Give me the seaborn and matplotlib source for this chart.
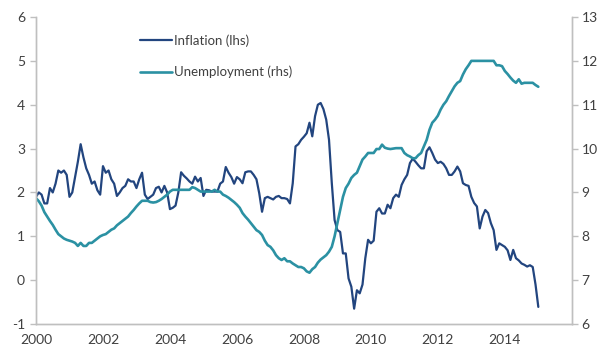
import numpy as np
import matplotlib
matplotlib.use("Agg")
import matplotlib.pyplot as plt
import seaborn as sns

# monthly, Jan 2000 .. Jan 2015
inflation = [
    1.9, 2.0, 1.95, 1.75, 1.75, 2.1, 2.0, 2.2, 2.5, 2.45, 2.5, 2.4,
    1.9, 2.0, 2.35, 2.7, 3.1, 2.8, 2.55, 2.4, 2.2, 2.25, 2.05, 1.95,
    2.6, 2.45, 2.5, 2.3, 2.2, 1.92, 2.0, 2.1, 2.15, 2.3, 2.25, 2.25,
    2.1, 2.3, 2.45, 1.95, 1.85, 1.9, 1.95, 2.1, 2.13, 2.0, 2.15, 2.0,
    1.62, 1.65, 1.7, 2.0, 2.46, 2.38, 2.32, 2.25, 2.2, 2.36, 2.25, 2.33,
    1.92, 2.06, 2.05, 2.02, 2.02, 2.02, 2.2, 2.25, 2.58, 2.45, 2.35, 2.2,
    2.35, 2.3, 2.21, 2.46, 2.48, 2.48, 2.4, 2.3, 1.98, 1.56, 1.87, 1.9,
    1.87, 1.84, 1.9, 1.92, 1.87, 1.87, 1.85, 1.75, 2.21, 3.05, 3.1, 3.2,
    3.27, 3.35, 3.59, 3.28, 3.74, 4.0, 4.04, 3.9, 3.66, 3.2, 2.21, 1.37,
    1.14, 1.1, 0.61, 0.61, 0.04, -0.15, -0.65, -0.23, -0.3, -0.1, 0.5, 0.92,
    0.84, 0.9, 1.56, 1.64, 1.52, 1.52, 1.72, 1.64, 1.87, 1.95, 1.9, 2.17,
    2.3, 2.4, 2.67, 2.77, 2.7, 2.62, 2.55, 2.55, 2.94, 3.03, 2.9, 2.75,
    2.67, 2.7, 2.65, 2.55, 2.4, 2.4, 2.48, 2.59, 2.48, 2.21, 2.17, 2.15,
    1.9, 1.76, 1.68, 1.18, 1.45, 1.6, 1.53, 1.3, 1.14, 0.69, 0.84, 0.8,
    0.76, 0.68, 0.46, 0.69, 0.5, 0.45, 0.38, 0.35, 0.31, 0.34, 0.3, -0.1,
    -0.61,
]

unemployment = [
    8.87, 8.8, 8.7, 8.55, 8.45, 8.35, 8.26, 8.15, 8.05, 8.0, 7.95, 7.92,
    7.9, 7.88, 7.85, 7.78, 7.85, 7.78, 7.78, 7.85, 7.85, 7.9, 7.95, 8.0,
    8.03, 8.05, 8.1, 8.15, 8.18, 8.25, 8.3, 8.35, 8.4, 8.45, 8.53, 8.6,
    8.68, 8.75, 8.81, 8.81, 8.81, 8.78, 8.77, 8.78, 8.81, 8.85, 8.9, 8.95,
    9.02, 9.06, 9.06, 9.06, 9.06, 9.06, 9.06, 9.06, 9.12, 9.1, 9.06, 9.02,
    9.02, 9.02, 9.02, 9.02, 9.06, 9.02, 9.02, 8.95, 8.92, 8.88, 8.83, 8.78,
    8.72, 8.65, 8.53, 8.45, 8.38, 8.3, 8.22, 8.14, 8.1, 8.03, 7.9, 7.8,
    7.76, 7.68, 7.57, 7.5, 7.46, 7.5, 7.43, 7.43, 7.38, 7.34, 7.3, 7.3,
    7.27, 7.2, 7.17, 7.25, 7.3, 7.4, 7.47, 7.52, 7.57, 7.65, 7.76, 8.0,
    8.3, 8.6, 8.9, 9.1, 9.2, 9.33, 9.4, 9.45, 9.6, 9.75, 9.82, 9.9,
    9.9, 9.9, 9.99, 9.99, 10.09, 10.02, 10.0, 9.99, 10.0, 10.01, 10.01, 10.01,
    9.9, 9.85, 9.82, 9.78, 9.78, 9.85, 9.9, 10.05, 10.2, 10.43, 10.59, 10.66,
    10.75, 10.89, 11.0, 11.08, 11.2, 11.31, 11.42, 11.5, 11.54, 11.69, 11.81, 11.9,
    12.0, 12.0, 12.0, 12.0, 12.0, 12.0, 12.0, 12.0, 12.0, 11.9, 11.9, 11.88,
    11.77, 11.7, 11.62, 11.55, 11.5, 11.58, 11.48, 11.5, 11.5, 11.5, 11.5, 11.45,
    11.41,
]

years = 2000 + np.arange(len(inflation)) / 12
xticks = [2000, 2002, 2004, 2006, 2008, 2010, 2012, 2014]

sns.set_style("white")
plt.rcParams["font.family"] = ["Lato", "DejaVu Sans"]
plt.rcParams["axes.unicode_minus"] = False

infl_col = "#22457f"
unemp_col = "#2b91a3"
grey = "#bfbfbf"
txt = "#404040"

fig = plt.figure(figsize=(6, 3.49), dpi=100)
ax = fig.add_axes([0.06, 0.0716, 0.893, 0.8796])
ax2 = ax.twinx()

sns.lineplot(x=years, y=inflation, ax=ax, color=infl_col, linewidth=1.6,
             label="Inflation (lhs)", legend=False)
sns.lineplot(x=years, y=unemployment, ax=ax2, color=unemp_col, linewidth=1.9,
             label="Unemployment (rhs)", legend=False)

ax.set_xlim(2000, 2016)
ax.set_ylim(-1, 6)
ax2.set_ylim(6, 13)
ax.set_xticks(xticks)
ax.set_xticklabels([str(x) for x in xticks])
ax.set_yticks(range(-1, 7))
ax2.set_yticks(range(6, 14))

for a in (ax, ax2):
    for s in a.spines.values():
        s.set_color(grey)
        s.set_linewidth(1.0)
    a.spines["top"].set_visible(False)
    a.tick_params(colors=grey, labelcolor=txt, labelsize=10, length=4,
                  width=1.0, direction="out")
ax.tick_params(axis="y", pad=4)
ax2.tick_params(axis="y", pad=3)
ax.tick_params(axis="x", pad=3)

h1, l1 = ax.get_legend_handles_labels()
h2, l2 = ax2.get_legend_handles_labels()
fig.legend(h1 + h2, l1 + l2, loc="upper left",
           bbox_to_anchor=(140 / 600, 1 - 34 / 349), frameon=False,
           fontsize=9.5, labelcolor=txt, handlelength=2.4,
           handletextpad=0.15, labelspacing=1.45, borderpad=0,
           borderaxespad=0)

ax.set_xlabel("")
ax.set_ylabel("")
ax2.set_ylabel("")

fig.savefig("out.png", dpi=100)
